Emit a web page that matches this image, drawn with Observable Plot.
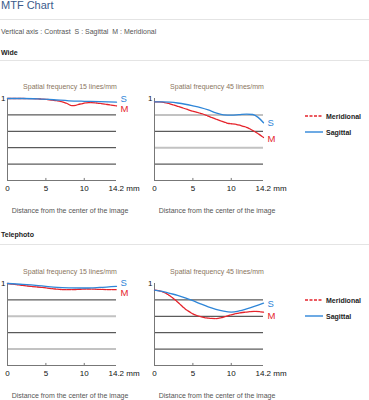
<!DOCTYPE html>
<html>
<head>
<meta charset="utf-8">
<script src="https://cdn.jsdelivr.net/npm/d3@7"></script>
<script src="https://cdn.jsdelivr.net/npm/@observablehq/plot@0.6"></script>
<style>
  html, body { margin: 0; padding: 0; background: #fff; }
  body { font-family: "Liberation Sans", Arial, sans-serif; }
  #page { position: relative; width: 369px; height: 400px; overflow: hidden; }
  .abs { position: absolute; white-space: nowrap; }
  .rule { position: absolute; left: 0; width: 369px; height: 1px; background: #e4e4e4; }
  .legend-item { position: absolute; display: flex; align-items: center; font-size: 7px; font-weight: bold; color: #222; }
  .legend-item svg { margin-right: 3px; }
</style>
</head>
<body>
<div id="page"></div>
<script>
// ---------- data ----------
const pageTitle = "MTF Chart";
const subtitle = "Vertical axis : Contrast\u00a0\u00a0S : Sagittal\u00a0\u00a0M : Meridional";
const sectionNames = ["Wide", "Telephoto"];
const freqTitles = ["Spatial frequency 15 lines/mm", "Spatial frequency 45 lines/mm"];
const xAxisLabel = "Distance from the center of the image";
const xTickValues = [0, 5, 10];
const xEndTick = [14.2];
const xEndLabel = "14.2 mm";
const yTickValues = [1];
const seriesNames = ["Meridional", "Sagittal"];
const seriesLetters = ["M", "S"];

// [distance mm, contrast]
const wide15S = [[0,1],[2,1],[4,0.995],[6,0.985],[8,0.972],[10,0.966],[12,0.962],[14.2,0.955]];
const wide15M = [[0,1],[2,1],[4,0.995],[5,0.99],[6,0.978],[7,0.962],[7.6,0.945],[8.5,0.912],[9.5,0.933],[10.6,0.95],[11.7,0.944],[13,0.927],[14.2,0.91]];
const wide45S = [[0,0.96],[1,0.96],[2,0.955],[3,0.945],[4,0.93],[5,0.91],[6,0.888],[7,0.86],[8,0.825],[9,0.8],[10,0.797],[11,0.803],[12,0.81],[12.8,0.805],[13.5,0.77],[14.2,0.705]];
const wide45M = [[0,0.96],[1,0.955],[2,0.935],[3,0.905],[4,0.875],[5,0.845],[6,0.82],[7,0.785],[8,0.748],[9,0.715],[9.7,0.695],[10.5,0.688],[11.2,0.672],[12,0.648],[13,0.6],[14.2,0.525]];
const tele15S = [[0,1],[2,0.99],[4,0.975],[5,0.965],[6.5,0.952],[8,0.947],[10,0.945],[12,0.952],[14.2,0.965]];
const tele15M = [[0,1],[1.5,0.982],[3,0.965],[4.5,0.952],[6,0.935],[7.5,0.925],[9,0.927],[10.5,0.933],[12,0.928],[14.2,0.925]];
const tele45S = [[0,0.92],[1,0.905],[2,0.88],[3,0.855],[4,0.825],[5,0.79],[6,0.752],[7,0.715],[8,0.685],[9,0.663],[10,0.652],[11,0.665],[12,0.69],[13,0.72],[14.2,0.76]];
const tele45M = [[0,0.92],[1,0.9],[2,0.85],[3,0.775],[4,0.69],[5,0.63],[6,0.595],[7,0.577],[8,0.572],[9,0.59],[10,0.618],[11,0.64],[12,0.652],[13,0.66],[14.2,0.65]];

// gridline values per panel (dark = thin black, light = thick grey)
const wide15Dark = [0.8,0.6,0.4,0.2], wide15Light = [];
const wide45Dark = [0.6,0.2], wide45Light = [0.8,0.4];
const tele15Dark = [0.8,0.4], tele15Light = [0.6,0.2];
const tele45Dark = [0.8,0.6,0.4,0.2], tele45Light = [];

// ---------- style ----------
const FONT = '"Liberation Sans", Arial, sans-serif';
const BLUE = "#2f86d8", RED = "#e5232b";
const page = document.getElementById("page");

function addText(txt, left, top, css) {
  const d = document.createElement("div");
  d.className = "abs";
  d.textContent = txt;
  d.style.left = left + "px";
  d.style.top = top + "px";
  Object.assign(d.style, css || {});
  page.appendChild(d);
}
function addRule(top) {
  const d = document.createElement("div");
  d.className = "rule";
  d.style.top = top + "px";
  page.appendChild(d);
}

function panel({S, M, dark, light, title, sDy, mDy}) {
  const px = d => d[0], py = d => d[1];
  return Plot.plot({
    width: 140, height: 143,
    marginLeft: 7, marginRight: 24, marginTop: 23, marginBottom: 38,
    x: {domain: [0, 14.2], axis: null},
    y: {domain: [0, 1], axis: null},
    style: {fontFamily: FONT, fontSize: "8px", background: "transparent", overflow: "visible", color: "#222"},
    marks: [
      Plot.ruleY(light, {stroke: "#c2c2c2", strokeWidth: 2}),
      Plot.ruleY(dark, {stroke: "#333", strokeWidth: 1}),
      Plot.ruleY([0], {stroke: "#777"}),
      Plot.ruleX([0], {y1: 0, y2: 1, stroke: "#777"}),
      Plot.ruleX(xTickValues.slice(1), {y1: 0, y2: 0.025, stroke: "#777"}),
      Plot.line(M, {x: px, y: py, stroke: RED, strokeWidth: 1.3, strokeDasharray: "4,1", curve: "monotone-x"}),
      Plot.line(S, {x: px, y: py, stroke: BLUE, strokeWidth: 1.3, curve: "monotone-x"}),
      Plot.text([S[S.length - 1]], {x: px, y: py, text: () => seriesLetters[1], textAnchor: "start", dx: 4, dy: sDy, fill: BLUE, fontSize: 9.5}),
      Plot.text([M[M.length - 1]], {x: px, y: py, text: () => seriesLetters[0], textAnchor: "start", dx: 4, dy: mDy, fill: RED, fontSize: 9.5}),
      Plot.text(yTickValues, {x: 0, y: d => d, text: d => String(d), textAnchor: "end", dx: -2, fontSize: 8, fill: "#111"}),
      Plot.text(xTickValues, {x: d => d, y: 0, text: d => String(d), dy: 8, fontSize: 8, fill: "#111"}),
      Plot.text(xEndTick, {x: d => d, y: 0, text: () => xEndLabel, textAnchor: "start", dx: -8, dy: 8, fontSize: 8, fill: "#111"}),
      Plot.text([title], {frameAnchor: "top", text: d => d, dx: 8, dy: -14, fontSize: 7, fill: "#8a7560"}),
      Plot.text([xAxisLabel], {frameAnchor: "bottom", text: d => d, dx: 8, dy: 32, fontSize: 7, fill: "#555"})
    ]
  });
}

function place(svg, left, top) {
  svg.style.position = "absolute";
  svg.style.left = left + "px";
  svg.style.top = top + "px";
  page.appendChild(svg);
}

function legend(left, top) {
  const items = [
    {name: seriesNames[0], color: RED, dash: "3,1.5"},
    {name: seriesNames[1], color: BLUE, dash: null}
  ];
  items.forEach((it, i) => {
    const d = document.createElement("div");
    d.className = "legend-item";
    d.style.left = left + "px";
    d.style.top = (top + i * 16 - 4) + "px";
    d.style.height = "8px";
    d.innerHTML = `<svg width="18" height="4"><line x1="0" x2="18" y1="2" y2="2" stroke="${it.color}" stroke-width="1.4" ${it.dash ? `stroke-dasharray="${it.dash}"` : ""}/></svg><span>${it.name}</span>`;
    page.appendChild(d);
  });
}

// ---------- header ----------
addText(pageTitle, 1, -1, {fontSize: "11px", lineHeight: "13px", color: "#3b5b8c"});
addRule(19);
addText(subtitle, 1, 28, {fontSize: "7px", lineHeight: "8px", color: "#555"});
addText(sectionNames[0], 1, 49, {fontSize: "7px", lineHeight: "8px", fontWeight: "bold", color: "#222"});
addRule(60);

// ---------- wide ----------
place(panel({S: wide15S, M: wide15M, dark: wide15Dark, light: wide15Light, title: freqTitles[0], sDy: -3, mDy: 3.5}), 0, 75);
place(panel({S: wide45S, M: wide45M, dark: wide45Dark, light: wide45Light, title: freqTitles[1], sDy: 0, mDy: 2}), 147, 75);
legend(305, 116);

// ---------- telephoto ----------
addText(sectionNames[1], 1, 231, {fontSize: "7px", lineHeight: "8px", fontWeight: "bold", color: "#222"});
addRule(244);
place(panel({S: tele15S, M: tele15M, dark: tele15Dark, light: tele15Light, title: freqTitles[0], sDy: -3.5, mDy: 3.5}), 0, 260);
place(panel({S: tele45S, M: tele45M, dark: tele45Dark, light: tele45Light, title: freqTitles[1], sDy: 0.5, mDy: 3.5}), 147, 260);
legend(305, 300);
</script>
</body>
</html>
